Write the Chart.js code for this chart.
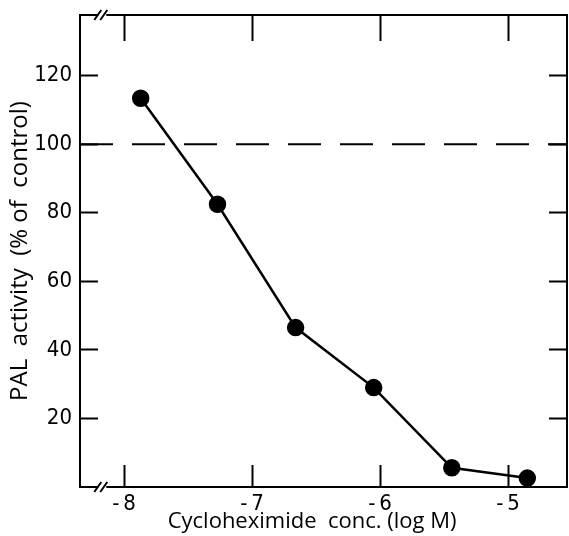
<!DOCTYPE html>
<html>
<head>
<meta charset="utf-8">
<script src="https://cdn.jsdelivr.net/npm/chart.js@4/dist/chart.umd.min.js"></script>
<style>
  html, body { margin: 0; padding: 0; background: #fff; }
  canvas { display: block; }
</style>
</head>
<body>
<canvas id="palChart" width="569" height="536"></canvas>
<script>
// Data
const concLog = [-7.87, -7.27, -6.66, -6.05, -5.44, -4.85];   // log M
const palActivity = [113.4, 82.5, 46.5, 29, 5.6, 2.6];         // % of control
const controlX = [-8.344, -4.54];   // control level line, spans the whole axis
const controlY = [100, 100];
const xTicks = [-8, -7, -6, -5];
const yTicks = [20, 40, 60, 80, 100, 120];

const tickFont = { family: "'DejaVu Sans Condensed', 'DejaVu Sans', sans-serif", size: 22 };
const titleFont = { family: "'Open Sans', sans-serif", size: 22 };

// "//" break marks on the top and bottom axes
const axisBreaks = {
    id: 'axisBreaks',
    afterDraw(chart) {
        const ctx = chart.ctx;
        const x = chart.scales.x.getPixelForValue(-8.17);
        const ys = [chart.chartArea.top, chart.chartArea.bottom];
        ctx.save();
        ys.forEach(y => {
            ctx.fillStyle = '#fff';
            ctx.fillRect(x - 4, y - 3, 8, 6);
            ctx.strokeStyle = '#000';
            ctx.lineWidth = 2;
            ctx.beginPath();
            ctx.moveTo(x - 8, y + 5); ctx.lineTo(x - 1, y - 5);
            ctx.moveTo(x - 2, y + 5); ctx.lineTo(x + 5, y - 5);
            ctx.stroke();
        });
        ctx.restore();
    }
};

const pickTicks = list => scale => {
    scale.ticks = list.map(v => ({ value: v }));
};

// fixed box sizes, no extra room for overhanging labels
const fixBox = (w, h) => s => {
    if (w !== null) s.width = w;
    if (h !== null) s.height = h;
    s.paddingLeft = s.paddingRight = s.paddingTop = s.paddingBottom = 0;
};

new Chart(document.getElementById('palChart'), {
    type: 'scatter',
    data: {
        datasets: [
            {
                data: concLog.map((x, i) => ({ x: x, y: palActivity[i] })),
                showLine: true,
                borderColor: '#000',
                borderWidth: 2.5,
                backgroundColor: '#000',
                pointRadius: 7.5,
                pointHoverRadius: 7.5,
                clip: false,
                order: 1
            },
            {
                data: controlX.map((x, i) => ({ x: x, y: controlY[i] })),
                showLine: true,
                borderColor: '#000',
                borderWidth: 2,
                borderDash: [33, 19],
                pointRadius: 0,
                order: 2
            }
        ]
    },
    options: {
        responsive: false,
        animation: false,
        layout: { padding: 0, autoPadding: false },
        plugins: { legend: { display: false }, tooltip: { enabled: false } },
        scales: {
            x: {
                type: 'linear',
                position: 'bottom',
                min: -8.344,
                max: -4.54,
                afterBuildTicks: pickTicks(xTicks),
                afterFit: fixBox(null, 49),
                border: { display: true, color: '#000', width: 2 },
                grid: { drawOnChartArea: false, color: '#000', tickColor: '#000', tickWidth: 2, tickLength: -22 },
                ticks: { color: '#000', font: tickFont, padding: 26, maxRotation: 0,
                         callback: v => '-\u2009' + Math.abs(v) },
                // trailing spaces nudge the centred title a little to the left
                title: { display: true, text: 'Cycloheximide  conc. (log M)    ', color: '#000', font: titleFont,
                         padding: { top: 0, bottom: 1 } }
            },
            x2: {
                type: 'linear',
                position: 'top',
                min: -8.344,
                max: -4.54,
                afterBuildTicks: pickTicks(xTicks),
                afterFit: fixBox(null, 15),
                border: { display: true, color: '#000', width: 2 },
                grid: { drawOnChartArea: false, color: '#000', tickColor: '#000', tickWidth: 2, tickLength: -26 },
                ticks: { display: false }
            },
            y: {
                type: 'linear',
                position: 'left',
                min: 0,
                max: 137.7,
                afterBuildTicks: pickTicks(yTicks),
                afterFit: fixBox(80, null),
                border: { display: true, color: '#000', width: 2 },
                grid: { drawOnChartArea: false, color: '#000', tickColor: '#000', tickWidth: 2, tickLength: -18 },
                ticks: { color: '#000', font: tickFont, padding: 26 },
                title: { display: true, text: 'PAL  activity  (% of  control)', color: '#000',
                         font: { family: titleFont.family, size: 24 },
                         padding: { top: 6, bottom: 0 } }
            },
            y2: {
                type: 'linear',
                position: 'right',
                min: 0,
                max: 137.7,
                afterBuildTicks: pickTicks(yTicks),
                afterFit: fixBox(2, null),
                border: { display: true, color: '#000', width: 2 },
                grid: { drawOnChartArea: false, color: '#000', tickColor: '#000', tickWidth: 2, tickLength: -18 },
                ticks: { display: false }
            }
        }
    },
    plugins: [axisBreaks]
});
</script>
</body>
</html>
